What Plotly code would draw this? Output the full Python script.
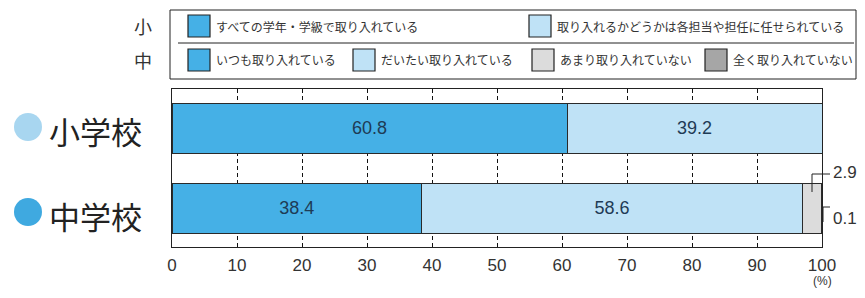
import plotly.graph_objects as go

# ---- data ----
categories = ["小学校", "中学校"]
elem_labels = ["すべての学年・学級で取り入れている", "取り入れるかどうかは各担当や担任に任せられている"]
elem_values = [60.8, 39.2]
mid_labels = ["いつも取り入れている", "だいたい取り入れている", "あまり取り入れていない", "全く取り入れていない"]
mid_values = [38.4, 58.6, 2.9, 0.1]
x_ticks = [0, 10, 20, 30, 40, 50, 60, 70, 80, 90, 100]

# ---- styles ----
elem_colors = ["#45b0e6", "#bfe2f6"]
mid_colors = ["#45b0e6", "#bfe2f6", "#dcdcdc", "#a6a6a6"]
circle_colors = ["#a8d6f0", "#3fa9e0"]
JP = "Noto Sans CJK JP"
NUM = "Liberation Sans, Arial, sans-serif"

OFF = 8  # page body margin
W, H = 865 - 2 * OFF, 298 - 2 * OFF
# plot area in reference (screen) pixels
L, R, T, B = 172, 822, 89, 247


def px(x):
    return (x - L) / (R - L)


def py(y):
    return (B - y) / (B - T)


fig = go.Figure()

for vals, cols, names, cat in [(elem_values, elem_colors, elem_labels, categories[0]),
                               (mid_values, mid_colors, mid_labels, categories[1])]:
    for v, c, n in zip(vals, cols, names):
        fig.add_trace(go.Bar(
            y=[cat], x=[v], orientation="h", name=n,
            marker=dict(color=c, line=dict(color="#2a2a2a", width=1)),
            text=[f"{v:.1f}" if v > 5 else ""], textposition="inside",
            insidetextanchor="middle",
            textfont=dict(family=NUM, size=18, color="#1e3b55"),
            width=0.625, showlegend=False, hoverinfo="skip",
        ))

fig.update_layout(
    width=W, height=H, barmode="stack",
    margin=dict(l=L - OFF, r=W - (R - OFF), t=T - OFF, b=H - (B - OFF), pad=0),
    paper_bgcolor="white", plot_bgcolor="white",
    showlegend=False,
    xaxis=dict(range=[0, 100], tickvals=x_ticks, ticktext=[str(t) for t in x_ticks],
               showgrid=True, gridcolor="#111", griddash="4px,3px", gridwidth=1.3,
               showline=True, linecolor="#222", linewidth=1, mirror=True,
               ticks="", ticklabelstandoff=3,
               tickfont=dict(family=NUM, size=17, color="#333"),
               zeroline=False, fixedrange=True),
    yaxis=dict(range=[1.4875, -0.4875], showticklabels=False, showgrid=False,
               showline=True, linecolor="#222", linewidth=1, mirror=True,
               ticks="", zeroline=False, fixedrange=True),
)

shapes = []
ann = []

# (%) unit
ann.append(dict(x=px(822), y=py(290), xref="paper", yref="paper", text="(%)", showarrow=False,
                font=dict(family=NUM, size=12, color="#333"), xanchor="center", yanchor="bottom"))

# category labels with circles
for i, (cat, cy) in enumerate(zip(categories, [127, 212])):
    shapes.append(dict(type="circle", xref="paper", yref="paper",
                       x0=px(14), x1=px(42), y0=py(cy + 14), y1=py(cy - 14),
                       fillcolor=circle_colors[i], line=dict(width=0)))
    ann.append(dict(x=px(47), y=py(cy + 3), xref="paper", yref="paper", text=cat, showarrow=False,
                    font=dict(family=JP, size=31, color="#222"), xanchor="left", yanchor="middle"))

# small segment annotations (2.9 and 0.1)
ann.append(dict(x=px(831), y=py(172), xref="paper", yref="paper", text=f"{mid_values[2]:.1f}",
                showarrow=False, font=dict(family=NUM, size=17, color="#333"),
                xanchor="left", yanchor="middle"))
ann.append(dict(x=px(831), y=py(218), xref="paper", yref="paper", text=f"{mid_values[3]:.1f}",
                showarrow=False, font=dict(family=NUM, size=17, color="#333"),
                xanchor="left", yanchor="middle"))
shapes.append(dict(type="path", xref="paper", yref="paper",
                   path=f"M {px(830)},{py(174)} L {px(812)},{py(174)} L {px(812)},{py(192)}",
                   line=dict(color="#222", width=1)))
shapes.append(dict(type="path", xref="paper", yref="paper",
                   path=f"M {px(830)},{py(207)} L {px(823)},{py(207)} L {px(823)},{py(222)}",
                   line=dict(color="#222", width=1)))

# legend box
shapes.append(dict(type="rect", xref="paper", yref="paper",
                   x0=px(170), x1=px(856), y0=py(79), y1=py(10),
                   line=dict(color="#222", width=1), fillcolor="white"))
shapes.append(dict(type="line", xref="paper", yref="paper",
                   x0=px(178), x1=px(854), y0=py(43), y1=py(43),
                   line=dict(color="#222", width=1)))
ann.append(dict(x=px(143), y=py(26), xref="paper", yref="paper", text="小", showarrow=False,
                font=dict(family=JP, size=18, color="#333"), xanchor="center", yanchor="middle"))
ann.append(dict(x=px(143), y=py(60), xref="paper", yref="paper", text="中", showarrow=False,
                font=dict(family=JP, size=18, color="#333"), xanchor="center", yanchor="middle"))

legend_rows = [
    (26, list(zip(elem_labels, elem_colors, [188, 529]))),
    (60, list(zip(mid_labels, mid_colors, [188, 353, 532, 705]))),
]
for cy, items in legend_rows:
    for lab, col, x0 in items:
        shapes.append(dict(type="rect", xref="paper", yref="paper",
                           x0=px(x0), x1=px(x0 + 22), y0=py(cy + 11), y1=py(cy - 11),
                           fillcolor=col, line=dict(color="#222", width=1.2)))
        ann.append(dict(x=px(x0 + 26), y=py(cy), xref="paper", yref="paper", text=lab,
                        showarrow=False, font=dict(family=JP, size=12, color="#333"),
                        xanchor="left", yanchor="middle"))

fig.update_layout(shapes=shapes, annotations=ann)
fig.write_html("out.html")
